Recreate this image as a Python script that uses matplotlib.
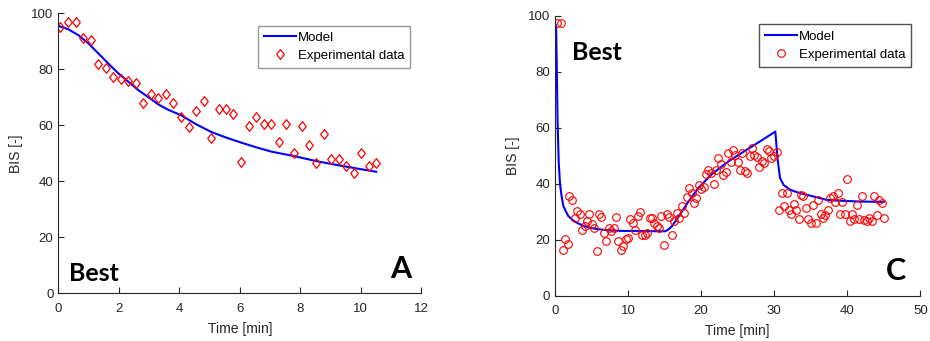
import matplotlib.pyplot as plt
import numpy as np
from matplotlib.path import Path

plt.rcParams['font.family'] = ['Liberation Sans', 'DejaVu Sans']

# === Painel A: dados ===
tA_exp = [0.05, 0.33, 0.57, 0.82, 1.07, 1.32, 1.57, 1.82, 2.06, 2.31, 2.57,
          2.81, 3.06, 3.30, 3.55, 3.80, 4.06, 4.31, 4.55, 4.81, 5.06, 5.30,
          5.55, 5.79, 6.05, 6.30, 6.54, 6.79, 7.04, 7.29, 7.53, 7.79, 8.04,
          8.28, 8.53, 8.77, 9.02, 9.27, 9.51, 9.76, 10.01, 10.26, 10.51]
bisA_exp = [95.2, 97.0, 97.0, 91.3, 90.5, 81.8, 80.4, 77.4, 76.5, 75.8, 75.0,
            67.9, 71.2, 69.9, 71.2, 67.9, 63.1, 59.3, 65.1, 68.7, 55.4, 65.7,
            65.7, 63.9, 46.8, 59.9, 63.1, 60.5, 60.5, 54.1, 60.5, 50.0, 59.9,
            53.0, 46.7, 56.8, 47.9, 47.9, 45.5, 42.9, 50.0, 45.5, 46.7]

tA_mod = [0.0, 0.33, 0.66, 0.99, 1.32, 1.65, 1.98, 2.31, 2.64, 2.98, 3.30,
          3.64, 4.06, 4.55, 5.06, 5.55, 6.05, 6.55, 7.04, 7.79, 8.53, 9.27,
          10.01, 10.51]
bisA_mod = [95.5, 94.3, 92.2, 89.3, 85.7, 82.1, 78.6, 75.6, 72.6, 70.0, 67.5,
            65.5, 63.6, 60.4, 57.6, 55.6, 53.8, 52.1, 50.6, 49.0, 47.2, 45.7,
            44.3, 43.4]

# === Painel C: dados ===
tC_exp = [0.32, 0.78, 1.05, 1.37, 1.73, 1.96, 2.37, 2.69, 3.06, 3.42, 3.74,
          4.06, 4.43, 4.70, 5.02, 5.34, 5.70, 6.02, 6.34, 6.71, 7.03, 7.35,
          7.71, 8.03, 8.35, 8.67, 8.99, 9.31, 9.67, 9.99, 10.31, 10.63, 11.00,
          11.31, 11.68, 11.95, 12.27, 12.59, 12.96, 13.28, 13.60, 13.91, 14.23,
          14.55, 14.96, 15.28, 15.60, 15.97, 16.33, 16.65, 17.02, 17.34, 17.70,
          18.02, 18.34, 18.70, 19.02, 19.34, 19.66, 20.03, 20.35, 20.67, 20.99,
          21.30, 21.72, 22.03, 22.35, 22.67, 23.04, 23.40, 23.72, 24.04, 24.41,
          24.68, 25.00, 25.32, 25.64, 26.00, 26.32, 26.64, 26.96, 27.28, 27.60,
          27.97, 28.28, 28.60, 28.97, 29.24, 29.61, 29.93, 30.34, 30.70, 31.02,
          31.39, 31.71, 32.03, 32.35, 32.66, 33.03, 33.35, 33.67, 33.99, 34.35,
          34.67, 34.99, 35.36, 35.68, 36.00, 36.36, 36.68, 37.00, 37.32, 37.64,
          38.00, 38.37, 38.69, 39.01, 39.33, 39.64, 40.01, 40.33, 40.69, 40.97,
          41.33, 41.65, 42.02, 42.34, 42.70, 43.02, 43.34, 43.66, 44.02, 44.34,
          44.71, 45.03]
bisC_exp = [97.5, 97.5, 16.3, 20.4, 18.4, 35.5, 34.1, 27.8, 30.2, 29.3, 23.4,
            24.8, 26.6, 29.0, 25.5, 24.3, 15.9, 29.1, 28.1, 22.4, 19.5, 24.3,
            23.0, 24.1, 28.1, 19.6, 16.3, 17.7, 20.4, 20.7, 27.2, 26.0, 23.6,
            28.6, 29.7, 21.5, 21.6, 22.4, 27.9, 27.6, 26.0, 24.8, 24.0,
            28.4, 18.1, 29.0, 28.1, 21.6, 26.7, 29.6, 27.6, 31.9, 29.6,
            35.3, 38.5, 36.5, 33.1, 34.9, 39.4, 38.2, 38.8, 43.5, 45.0,
            43.8, 40.0, 45.0, 49.0, 47.0, 43.0, 44.3, 50.8, 47.9, 52.0,
            50.2, 47.9, 44.9, 50.8, 44.6, 43.9, 49.9, 52.9, 50.2, 49.6,
            46.1, 48.2, 47.5, 52.3, 51.8, 49.3, 49.9, 51.4, 30.5, 36.5,
            31.9, 36.7, 30.5, 29.1, 32.9, 30.5, 27.3, 35.9, 35.5, 31.4,
            27.2, 26.0, 32.3, 26.1, 34.1, 29.3, 27.6, 28.7, 30.5, 34.9,
            35.6, 33.5, 36.7, 29.3, 33.3, 29.3, 41.8, 26.7, 29.0, 27.3,
            32.3, 27.3, 35.5, 27.0, 26.6, 27.8, 26.7, 35.6, 28.7, 34.1,
            33.1, 27.6]

tC_mod = [0.0, 0.15, 0.25, 0.35, 0.5, 0.68, 0.9, 1.14, 1.5, 1.8, 2.4, 3.0,
          4.0, 4.8, 6.0, 7.5, 9.5, 11.6, 13.5, 15.1, 15.5, 16.0, 16.9, 18.26,
          19.6, 21.5, 23.7, 25.8, 28.0, 30.15, 30.3, 30.45, 30.6, 30.8, 31.3,
          32.2, 33.3, 34.5, 37.2, 39.0, 42.0, 45.0]
bisC_mod = [97.5, 96.0, 80.0, 62.0, 48.0, 40.0, 35.5, 32.0, 30.0, 28.5, 27.0,
            26.0, 24.8, 24.2, 23.7, 23.3, 23.1, 23.1, 23.0, 23.0, 23.6, 24.8,
            28.2, 33.6, 38.4, 43.5, 47.9, 51.4, 55.0, 58.6, 54.0, 49.0, 46.0,
            42.0, 39.5, 37.8, 36.8, 36.0, 34.2, 33.9, 33.6, 33.5]

cor_eixo = '#262626'

# losango estilo MATLAB (um pouco mais alto que largo)
losango = Path([(0, 1), (0.78, 0), (0, -1), (-0.78, 0), (0, 1)],
               [Path.MOVETO, Path.LINETO, Path.LINETO, Path.LINETO, Path.CLOSEPOLY])


def estilo_matlab(ax, xlim, xticks):
    ax.set_xlim(*xlim)
    ax.set_ylim(0, 100)
    ax.set_xticks(xticks)
    ax.set_yticks(np.arange(0, 101, 20))
    for lado in ['top', 'right']:
        ax.spines[lado].set_visible(False)
    for lado in ['left', 'bottom']:
        ax.spines[lado].set_color(cor_eixo)
        ax.spines[lado].set_linewidth(0.8)
    ax.tick_params(direction='in', length=4, width=0.8, colors=cor_eixo,
                   labelsize=9.5, labelcolor=cor_eixo)
    ax.tick_params(axis='x', pad=7)
    ax.set_xlabel('Time [min]', fontsize=10, color=cor_eixo, labelpad=5)
    ax.set_ylabel('BIS [-]', fontsize=10, color=cor_eixo, labelpad=6)


def legenda(ax, anchor, cor_borda):
    leg = ax.legend(loc='upper right', bbox_to_anchor=anchor, fontsize=9.5,
                    frameon=True, fancybox=False, handlelength=2.4,
                    borderpad=0.45, labelspacing=0.45, handletextpad=0.15,
                    borderaxespad=0)
    leg.get_frame().set_edgecolor(cor_borda)
    leg.get_frame().set_linewidth(1.0)
    return leg


fig = plt.figure(figsize=(9.3, 3.41), dpi=100)
axA = fig.add_axes([0.0627, 0.140, 0.3903, 0.821])
axC = fig.add_axes([0.5968, 0.133, 0.3928, 0.821])

# === Painel A ===
axA.plot(tA_mod, bisA_mod, color='#0000ff', lw=1.5, label='Model')
axA.plot(tA_exp, bisA_exp, ls='none', marker=losango, color='#ff0000',
         mfc='none', ms=7, mew=0.9, label='Experimental data')
estilo_matlab(axA, (0, 12), np.arange(0, 13, 2))
legenda(axA, (0.969, 0.956), '#808080')
axA.text(0.030, 0.044, 'Best', transform=axA.transAxes, fontsize=18,
         fontweight='bold', family='Lato', ha='left', va='baseline')
axA.text(0.972, 0.056, 'A', transform=axA.transAxes, fontsize=22,
         fontweight='bold', family='Lato', ha='right', va='baseline')

# === Painel C ===
axC.plot(tC_mod, bisC_mod, color='#0000ff', lw=1.5, label='Model')
axC.plot(tC_exp, bisC_exp, 'o', color='#ff0000', mfc='none', ms=5.5, mew=0.8,
         label='Experimental data')
estilo_matlab(axC, (0, 50), np.arange(0, 51, 10))
legenda(axC, (0.975, 0.969), '#262626')
axC.text(0.046, 0.842, 'Best', transform=axC.transAxes, fontsize=18,
         fontweight='bold', family='Lato', ha='left', va='baseline')
axC.text(0.960, 0.056, 'C', transform=axC.transAxes, fontsize=22,
         fontweight='bold', family='Lato', ha='right', va='baseline')

plt.savefig('out.png', dpi=100)
